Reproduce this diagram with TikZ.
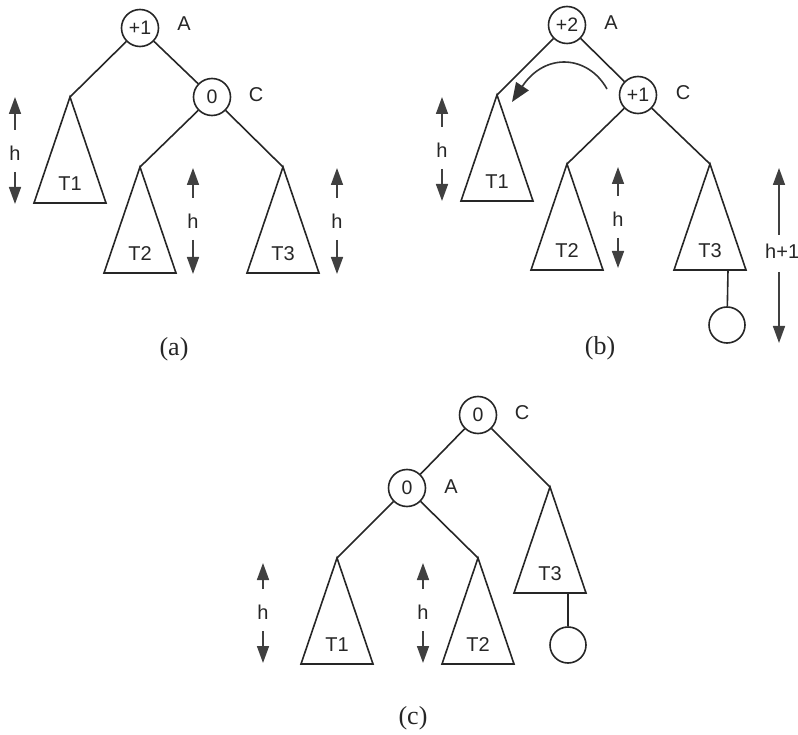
\documentclass[tikz,border=0pt]{standalone}
\usepackage{fontspec}
\setmainfont{Liberation Serif}
\newfontfamily\hvfont{Liberation Sans}
\usetikzlibrary{arrows.meta,calc}
\tikzset{
  ln/.style={line width=1.6pt, draw=black!85},
  vtx/.style={circle, draw=black!85, line width=1.6pt, minimum size=37pt, inner sep=0pt, font=\hvfont\fontsize{19.5}{19.5}\selectfont, text=black!85},
  leaf/.style={circle, draw=black!85, line width=1.6pt, minimum size=36pt, inner sep=0pt},
  lbl/.style={inner sep=0pt, font=\hvfont\fontsize{20}{20}\selectfont, text=black!85},
  harr/.style={-{Triangle[length=17pt,width=12pt]}, line width=1.6pt, draw=black!75},
  rotarr/.style={-{Triangle[length=19pt,width=15pt]}, line width=1.6pt, draw=black!80},
  capt/.style={inner sep=0pt, font=\fontsize{26}{26}\selectfont, text=black!85}
}
% subtree: name, apex x, apex y, label
\newcommand\subtree[4]{%
  \coordinate (#1) at (#2,#3);
  \draw[ln, line join=miter] (#1) -- ++(-36,106) coordinate (#1l) -- ++(72,0) coordinate (#1r) -- cycle;
  \node[lbl] (#1t) at ($(#1)+(0,87)$) {#4};
}
% height arrow: name, x, top y, bottom y, label centre y, text
\newcommand\hmark[6]{%
  \coordinate (#1top) at (#2,#3);
  \coordinate (#1bot) at (#2,#4);
  \node[lbl] (#1) at (#2,#5) {#6};
  \draw[harr] ($(#1)+(0,-23)$) -- (#1top);
  \draw[harr] ($(#1)+(0,19)$) -- (#1bot);
}
\begin{document}
\begin{tikzpicture}[x=1pt,y=-1pt]
\useasboundingbox (0,0) rectangle (798,735);

% ---------------- (a) ----------------
\node[vtx] (aA) at (140,28) {+1};
\node[lbl] (aAl) at (184,24) {A};
\node[vtx] (aC) at (212,97) {0};
\node[lbl] (aCl) at (256,95) {C};
\subtree{aT1}{70}{97}{T1}
\subtree{aT2}{140}{167}{T2}
\subtree{aT3}{283}{167}{T3}
\draw[ln] (aA) -- (aT1);
\draw[ln] (aA) -- (aC);
\draw[ln] (aC) -- (aT2);
\draw[ln] (aC) -- (aT3);
\hmark{ah1}{15}{97}{204}{153}{h}
\hmark{ah2}{193}{168}{274}{221}{h}
\hmark{ah3}{337}{168}{274}{221}{h}
\node[capt] (capa) at (174,349) {(a)};

% ---------------- (b) ----------------
\node[vtx] (bA) at (567,25) {+2};
\node[lbl] (bAl) at (611,23) {A};
\node[vtx] (bC) at (638,95) {+1};
\node[lbl] (bCl) at (683,93) {C};
\subtree{bT1}{497}{95}{T1}
\subtree{bT2}{567}{164}{T2}
\subtree{bT3}{710}{164}{T3}
\draw[ln] (bA) -- (bT1);
\draw[ln] (bA) -- (bC);
\draw[ln] (bC) -- (bT2);
\draw[ln] (bC) -- (bT3);
\coordinate (bstem) at ($(bT3l)!0.75!(bT3r)$);
\node[leaf] (bleaf) at (727,325) {};
\draw[ln] (bstem) -- (bleaf);
\coordinate (rotS) at (607,89);
\coordinate (rotE) at (512,102);
\draw[rotarr] (rotS) .. controls (588,55) and (545,52) .. (rotE);
\hmark{bh1}{442}{97}{201}{150}{h}
\hmark{bh2}{618}{167}{268}{219}{h}
\coordinate (bhtop) at (779,168);
\coordinate (bhbot) at (779,343);
\node[lbl, anchor=west] (bh3) at (765,251) {h+1};
\draw[harr] (779,235) -- (bhtop);
\draw[harr] (779,272) -- (bhbot);
\node[capt] (capb) at (600,348) {(b)};

% ---------------- (c) ----------------
\node[vtx] (cC) at (478,415) {0};
\node[lbl] (cCl) at (522,413) {C};
\node[vtx] (cA) at (407,488) {0};
\node[lbl] (cAl) at (451,487) {A};
\subtree{cT3}{550}{487}{T3}
\subtree{cT1}{337}{558}{T1}
\subtree{cT2}{478}{558}{T2}
\draw[ln] (cC) -- (cA);
\draw[ln] (cC) -- (cT3);
\draw[ln] (cA) -- (cT1);
\draw[ln] (cA) -- (cT2);
\coordinate (cstem) at ($(cT3l)!0.75!(cT3r)$);
\node[leaf] (cleaf) at (568,645) {};
\draw[ln] (cstem) -- (cleaf);
\hmark{ch1}{263}{563}{663}{612}{h}
\hmark{ch2}{423}{563}{663}{612}{h}
\node[capt] (capc) at (413,718) {(c)};
\end{tikzpicture}
\end{document}
